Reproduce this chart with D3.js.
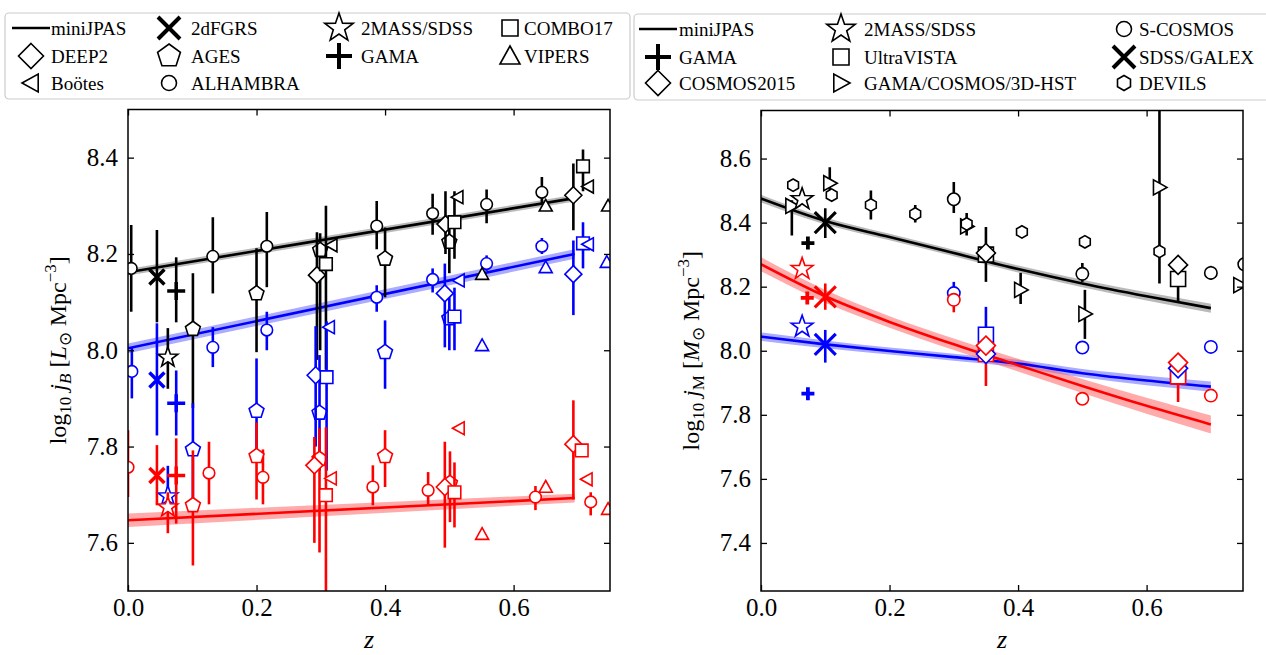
<!DOCTYPE html>
<html><head><meta charset="utf-8">
<script src="https://cdn.jsdelivr.net/npm/d3@7"></script>
<style>
body{margin:0;background:#fff}
svg, svg text{font-family:"Liberation Serif","Times New Roman",serif}
</style>
</head><body>
<svg id="c" width="1266" height="655"></svg>
<script>
// ================= DATA =================
// each point: [population, z, value, lower, upper]   (lower/upper = error-bar ends, null = none)
// ---- left panel: log10 j_B ----
const jB_ALHAMBRA = [
  ["all",0.005,8.170,8.080,8.260],["all",0.132,8.195,8.118,8.276],["all",0.216,8.216,8.131,8.287],
  ["all",0.387,8.258,8.210,8.310],["all",0.474,8.284,8.240,8.325],["all",0.558,8.303,8.264,8.334],
  ["all",0.644,8.328,8.305,8.360],
  ["blue",0.006,7.956,7.900,8.006],["blue",0.132,8.006,7.965,8.048],["blue",0.216,8.042,8.000,8.080],
  ["blue",0.387,8.110,8.080,8.135],["blue",0.474,8.147,8.120,8.170],["blue",0.558,8.180,8.165,8.197],
  ["blue",0.644,8.216,8.200,8.233],
  ["red",0.000,7.757,7.695,7.834],["red",0.126,7.745,7.680,7.810],["red",0.210,7.736,7.680,7.794],
  ["red",0.381,7.716,7.678,7.761],["red",0.467,7.709,7.678,7.747],["red",0.634,7.695,7.668,7.718],
  ["red",0.720,7.685,7.657,7.705]
];
const jB_2dFGRS = [["all",0.045,8.152,8.058,8.250],["blue",0.045,7.938,7.823,8.056],["red",0.045,7.740,7.678,7.803]];
const jB_GAMA = [["all",0.075,8.123,8.058,8.193],["blue",0.075,7.890,7.823,7.958],["red",0.075,7.740,7.640,7.817]];
const jB_2MASS = [["all",0.062,7.985,7.920,8.046],["blue",0.062,7.697,7.680,7.760],["red",0.062,7.674,7.620,7.705]];
const jB_AGES = [
  ["all",0.101,8.044,7.880,8.160],["all",0.200,8.118,7.996,8.212],["all",0.299,8.208,8.000,8.243],
  ["all",0.400,8.190,8.110,8.255],["all",0.500,8.225,8.160,8.274],
  ["blue",0.101,7.794,7.690,7.890],["blue",0.200,7.874,7.770,7.983],["blue",0.298,7.870,7.750,7.990],
  ["blue",0.400,7.996,7.920,8.062],["blue",0.500,8.066,8.000,8.110],
  ["red",0.101,7.678,7.553,7.792],["red",0.200,7.780,7.690,7.850],["red",0.298,7.774,7.580,7.838],
  ["red",0.400,7.780,7.716,7.834],["red",0.501,7.724,7.643,7.790]
];
const jB_DEEP2 = [
  ["all",0.294,8.156,7.980,8.245],["all",0.494,8.262,8.200,8.330],["all",0.693,8.322,8.249,8.388],
  ["blue",0.292,7.948,7.800,8.050],["blue",0.493,8.118,8.006,8.180],["blue",0.693,8.158,8.073,8.228],
  ["red",0.290,7.761,7.600,7.820],["red",0.493,7.716,7.590,7.810],["red",0.693,7.805,7.690,7.896]
];
const jB_COMBO17 = [
  ["all",0.308,8.179,7.960,8.300],["all",0.508,8.266,8.190,8.330],["all",0.708,8.382,8.330,8.417],
  ["blue",0.309,7.944,7.750,8.060],["blue",0.508,8.070,8.000,8.130],["blue",0.708,8.222,8.170,8.266],
  ["red",0.308,7.699,7.450,7.840],["red",0.508,7.705,7.632,7.767],["red",0.706,7.792,null,null]
];
const jB_VIPERS = [
  ["all",0.551,8.158,null,null],["all",0.650,8.300,null,null],["all",0.747,8.300,null,null],
  ["blue",0.551,8.010,null,null],["blue",0.650,8.172,null,null],["blue",0.745,8.183,null,null],
  ["red",0.551,7.618,null,null],["red",0.650,7.716,null,null],["red",0.747,7.670,null,null]
];
const jB_Bootes = [
  ["all",0.317,8.218,null,null],["all",0.513,8.318,null,null],["all",0.716,8.340,null,null],
  ["blue",0.313,8.048,null,null],["blue",0.515,8.145,null,null],["blue",0.716,8.220,null,null],
  ["red",0.316,7.734,null,null],["red",0.515,7.838,null,null],["red",0.714,7.732,null,null]
];
// miniJPAS fits (left)
const jB_fit_z    = [0.0, 0.695];
const jB_fit_all  = [8.162, 8.316];
const jB_fit_blue = [8.004, 8.200];
const jB_fit_red  = [7.647, 7.693];
const jB_band_all  = [0.007, 0.007];
const jB_band_blue = [0.010, 0.010];
const jB_band_red  = [0.014, 0.009];

// ---- right panel: log10 j_M ----
const jM_SCOSMOS = [
  ["all",0.300,8.473,8.430,8.527],["all",0.500,8.240,8.215,8.274],["all",0.700,8.243,8.222,8.265],["all",0.752,8.270,8.200,8.355],
  ["blue",0.300,8.180,8.150,8.215],["blue",0.500,8.010,7.995,8.025],["blue",0.700,8.012,null,null],
  ["red",0.300,8.159,8.120,8.180],["red",0.500,7.850,7.835,7.868],["red",0.700,7.860,null,null]
];
const jM_GAMA = [["all",0.073,8.336,null,null],["blue",0.073,7.866,null,null],["red",0.072,8.165,null,null]];
const jM_SDSSGALEX = [["all",0.100,8.400,8.352,8.445],["blue",0.100,8.020,7.963,8.065],["red",0.100,8.168,8.128,8.210]];
const jM_2MASS = [["all",0.064,8.473,null,null],["blue",0.064,8.075,null,null],["red",0.064,8.255,null,null]];
const jM_UltraVISTA = [
  ["all",0.350,8.300,null,null],["all",0.649,8.224,8.153,8.250],
  ["blue",0.350,8.050,7.990,8.137],["blue",0.649,7.935,7.900,7.990],
  ["red",0.350,7.990,7.890,8.030],["red",0.649,7.920,7.840,7.960]
];
const jM_COSMOS2015 = [
  ["all",0.350,8.305,8.215,8.386],["all",0.649,8.268,null,null],
  ["blue",0.350,7.990,null,null],["blue",0.649,7.945,null,null],
  ["red",0.350,8.016,null,null],["red",0.649,7.963,null,null]
];
const jM_GCH = [
  ["all",0.048,8.452,8.360,8.470],["all",0.107,8.523,8.490,8.573],["all",0.320,8.388,null,null],
  ["all",0.404,8.190,8.146,8.243],["all",0.504,8.115,8.037,8.190],["all",0.620,8.510,8.310,8.800],
  ["all",0.745,8.205,null,null]
];
const jM_DEVILS = [
  ["all",0.050,8.517,null,null],["all",0.110,8.486,null,null],["all",0.171,8.455,8.410,8.500],
  ["all",0.240,8.427,8.400,8.455],["all",0.320,8.396,8.360,8.430],["all",0.406,8.371,8.355,8.387],
  ["all",0.504,8.340,8.325,8.357],["all",0.620,8.310,8.210,8.330]
];
// miniJPAS fits (right)
const jM_fit_z    = [0.0, 0.1, 0.2, 0.3, 0.4, 0.5, 0.6, 0.7];
const jM_fit_all  = [8.475, 8.405, 8.355, 8.305, 8.255, 8.210, 8.170, 8.133];
const jM_fit_blue = [8.044, 8.020, 7.999, 7.980, 7.960, 7.930, 7.907, 7.888];
const jM_fit_red  = [8.270, 8.170, 8.090, 8.020, 7.955, 7.890, 7.828, 7.770];
const jM_band_all  = [0.012, 0.011, 0.010, 0.010, 0.011, 0.012, 0.013, 0.014];
const jM_band_blue = [0.013, 0.012, 0.011, 0.011, 0.012, 0.013, 0.015, 0.016];
const jM_band_red  = [0.022, 0.020, 0.018, 0.018, 0.020, 0.022, 0.025, 0.028];

const xTicks = [0.0, 0.2, 0.4, 0.6];
const jB_yTicks = [7.6, 7.8, 8.0, 8.2, 8.4];
const jM_yTicks = [7.4, 7.6, 7.8, 8.0, 8.2, 8.4, 8.6];

// legends
const legendLeft = [
  ["miniJPAS","line"],["2dFGRS","x"],["2MASS/SDSS","*"],["COMBO17","s"],
  ["DEEP2","D"],["AGES","p"],["GAMA","+"],["VIPERS","^"],
  ["Boötes","<"],["ALHAMBRA","o"]
];
const legendRight = [
  ["miniJPAS","line"],["2MASS/SDSS","*"],["S-COSMOS","o"],
  ["GAMA","+"],["UltraVISTA","s"],["SDSS/GALEX","x"],
  ["COSMOS2015","D"],["GAMA/COSMOS/3D-HST",">"],["DEVILS","h"]
];

// ================= DRAWING =================
const FONT = '"Liberation Serif", "Times New Roman", serif';
const svg = d3.select("#c");
const COL = {all:"#000000", blue:"#0000ff", red:"#ff0000"};
const BAND = {all:"#7f7f7f", blue:"#6666ff", red:"#ff6666"};

function markerPath(t, s){
  const P = pts => "M" + pts.map(p => p[0].toFixed(2)+","+p[1].toFixed(2)).join("L") + "Z";
  const poly = (n, r, off) => d3.range(n).map(k => {const a = -Math.PI/2 + off + k*2*Math.PI/n; return [r*Math.cos(a), r*Math.sin(a)];});
  switch(t){
    case "o": return `M${s},0A${s},${s} 0 1,1 ${-s},0A${s},${s} 0 1,1 ${s},0Z`;
    case "s": return P([[-s,-s],[s,-s],[s,s],[-s,s]]);
    case "D": return P([[0,-s],[s,0],[0,s],[-s,0]]);
    case "p": return P(poly(5, s, 0));
    case "h": return P(poly(6, s, 0));
    case "*": return P(d3.range(10).map(k => {const r = k%2 ? s*0.40 : s; const a = -Math.PI/2 + k*Math.PI/5; return [r*Math.cos(a), r*Math.sin(a)];}));
    case "^": return P([[0,-s],[s,s*0.8],[-s,s*0.8]]);
    case "<": return P([[-s,0],[s*0.8,-s],[s*0.8,s]]);
    case ">": return P([[s,0],[-s*0.8,-s],[-s*0.8,s]]);
    case "x": return `M${-s},${-s}L${s},${s}M${-s},${s}L${s},${-s}`;
    case "+": return `M${-s},0L${s},0M0,${-s}L0,${s}`;
  }
}
const isLineMarker = t => t === "x" || t === "+";

function drawMarker(g, t, s, x, y, color, sw){
  g.append("path").attr("d", markerPath(t, s)).attr("transform", `translate(${x},${y})`)
    .attr("fill", isLineMarker(t) ? "none" : "#fff")
    .attr("stroke", color).attr("stroke-width", sw)
    .attr("stroke-linejoin", "miter");
}

function drawPanel(cfg){
  const x = d3.scaleLinear().domain([0, 0.75]).range([cfg.x0, cfg.x1]);
  const y = d3.scaleLinear().domain(cfg.ydom).range([cfg.y1, cfg.y0]);
  const clipId = "clip" + cfg.id;
  svg.append("clipPath").attr("id", clipId).append("rect")
    .attr("x", cfg.x0).attr("y", cfg.y0).attr("width", cfg.x1 - cfg.x0).attr("height", cfg.y1 - cfg.y0);
  const g = svg.append("g").attr("clip-path", `url(#${clipId})`);

  // fits with bands
  const curve = cfg.fit.z.length > 2 ? d3.curveMonotoneX : d3.curveLinear;
  ["all","blue","red"].forEach(pop => {
    const vals = cfg.fit[pop], band = cfg.band[pop];
    const rows = cfg.fit.z.map((z,i) => ({z, v: vals[i], b: band[i]}));
    g.append("path").datum(rows)
      .attr("d", d3.area().x(d => x(d.z)).y0(d => y(d.v - d.b)).y1(d => y(d.v + d.b)).curve(curve))
      .attr("fill", BAND[pop]).attr("fill-opacity", 0.55).attr("stroke", "none");
  });
  ["all","blue","red"].forEach(pop => {
    const vals = cfg.fit[pop];
    const rows = cfg.fit.z.map((z,i) => ({z, v: vals[i]}));
    g.append("path").datum(rows)
      .attr("d", d3.line().x(d => x(d.z)).y(d => y(d.v)).curve(curve))
      .attr("fill", "none").attr("stroke", COL[pop]).attr("stroke-width", 2.6);
  });

  // data sets
  cfg.sets.forEach(set => {
    ["all","blue","red"].forEach(pop => {
      set.data.filter(d => d[0] === pop).forEach(d => {
        const [p, z, v, lo, hi] = d;
        if (lo !== null || hi !== null) {
          g.append("line").attr("x1", x(z)).attr("x2", x(z))
            .attr("y1", y(lo !== null ? lo : v)).attr("y2", y(hi !== null ? hi : v))
            .attr("stroke", COL[pop]).attr("stroke-width", 2.6);
        }
      });
      set.data.filter(d => d[0] === pop).forEach(d => {
        const [p, z, v] = d;
        drawMarker(g, set.m, set.s, x(z), y(v), COL[pop], isLineMarker(set.m) ? set.lw : 1.6);
      });
    });
  });

  // axes (inward ticks)
  const ax = svg.append("g").attr("class","axes");
  const fmt = d3.format(".1f");
  const bottom = ax.append("g").attr("transform", `translate(0,${cfg.y1})`)
    .call(d3.axisBottom(x).tickValues(xTicks).tickSize(-6).tickPadding(7).tickFormat(fmt));
  const top = ax.append("g").attr("transform", `translate(0,${cfg.y0})`)
    .call(d3.axisTop(x).tickValues(xTicks).tickSize(-6).tickFormat(""));
  const left = ax.append("g").attr("transform", `translate(${cfg.x0},0)`)
    .call(d3.axisLeft(y).tickValues(cfg.yTicks).tickSize(-6).tickPadding(10).tickFormat(fmt));
  const right = ax.append("g").attr("transform", `translate(${cfg.x1},0)`)
    .call(d3.axisRight(y).tickValues(cfg.yTicks).tickSize(-6).tickFormat(""));
  [bottom, top, left, right].forEach(a => {
    a.attr("font-family", null).attr("font-size", null);
    a.select(".domain").remove();
    a.selectAll("line").attr("stroke", "#000").attr("stroke-width", 1.3);
    a.selectAll("text").style("font-family", FONT).style("font-size", "25px").attr("fill", "#000");
  });
  ax.append("rect").attr("x", cfg.x0).attr("y", cfg.y0).attr("width", cfg.x1 - cfg.x0).attr("height", cfg.y1 - cfg.y0)
    .attr("fill", "none").attr("stroke", "#000").attr("stroke-width", 1.5);

  // x label
  svg.append("text").attr("x", (cfg.x0 + cfg.x1)/2).attr("y", 648).attr("text-anchor", "middle")
    .style("font-family", FONT).attr("font-size", 26).attr("font-style", "italic").text("z");

  // y label
  const yl = svg.append("text").attr("transform", `translate(${cfg.ylx},${(cfg.y0+cfg.y1)/2}) rotate(-90)`)
    .attr("text-anchor", "middle").style("font-family", FONT).attr("font-size", 24);
  yl.append("tspan").text("log");
  yl.append("tspan").attr("font-size", 17).attr("dy", 5).text("10");
  yl.append("tspan").attr("dy", -5).text(" ");
  yl.append("tspan").attr("font-style", "italic").text("j");
  yl.append("tspan").attr("font-size", 17).attr("dy", 5).attr("font-style", cfg.subItalic ? "italic" : "normal").text(cfg.sub);
  yl.append("tspan").attr("dy", -5).text(" [");
  yl.append("tspan").attr("font-style", "italic").text(cfg.unit);
  yl.append("tspan").attr("font-size", 17).attr("dy", 5).text("⊙");
  yl.append("tspan").attr("dy", -5).text(" Mpc");
  yl.append("tspan").attr("font-size", 17).attr("dy", -10).text("−3");
  yl.append("tspan").attr("dy", 10).text("]");
}

drawPanel({
  id: "L", x0: 128, x1: 610, y0: 109.5, y1: 591, ydom: [7.5, 8.5], yTicks: jB_yTicks,
  ylx: 66, sub: "B", subItalic: true, unit: "L",
  fit: {z: jB_fit_z, all: jB_fit_all, blue: jB_fit_blue, red: jB_fit_red},
  band: {all: jB_band_all, blue: jB_band_blue, red: jB_band_red},
  sets: [
    {data: jB_ALHAMBRA, m: "o", s: 5.8},
    {data: jB_AGES, m: "p", s: 7.8},
    {data: jB_DEEP2, m: "D", s: 8.5},
    {data: jB_COMBO17, m: "s", s: 6.3},
    {data: jB_VIPERS, m: "^", s: 6.5},
    {data: jB_Bootes, m: "<", s: 6.5},
    {data: jB_2MASS, m: "*", s: 10.5},
    {data: jB_2dFGRS, m: "x", s: 7.5, lw: 3.5},
    {data: jB_GAMA, m: "+", s: 9, lw: 3.5}
  ]
});

drawPanel({
  id: "R", x0: 761, x1: 1243, y0: 110.5, y1: 591, ydom: [7.25, 8.75], yTicks: jM_yTicks,
  ylx: 699, sub: "M", subItalic: false, unit: "M",
  fit: {z: jM_fit_z, all: jM_fit_all, blue: jM_fit_blue, red: jM_fit_red},
  band: {all: jM_band_all, blue: jM_band_blue, red: jM_band_red},
  sets: [
    {data: jM_GCH, m: ">", s: 7.5},
    {data: jM_DEVILS, m: "h", s: 6.2},
    {data: jM_SCOSMOS, m: "o", s: 6.2},
    {data: jM_UltraVISTA, m: "s", s: 7.5},
    {data: jM_COSMOS2015, m: "D", s: 9.5},
    {data: jM_2MASS, m: "*", s: 11.5},
    {data: jM_GAMA, m: "+", s: 6.5, lw: 3.8},
    {data: jM_SDSSGALEX, m: "x", s: 10.5, lw: 3.2}
  ]
});

// ================= LEGENDS =================
const LEG_MS = {"line":0, "x":11, "*":15, "s":8, "D":12.5, "p":12, "+":13, "^":10, "<":9, "o":7.5, ">":9, "h":7.5};
function drawLegend(box, items, cols, rows){
  const g = svg.append("g");
  g.append("rect").attr("x", box.x).attr("y", box.y).attr("width", box.w).attr("height", box.h)
    .attr("rx", 4).attr("fill", "#fff").attr("stroke", "#cccccc").attr("stroke-width", 1.2);
  items.forEach((it, i) => {
    const r = Math.floor(i / cols.length), c = i % cols.length;
    const cy = rows[r], cx = cols[c].m, tx = cols[c].t;
    const [label, t] = it;
    if (t === "line") {
      g.append("line").attr("x1", cx - 19).attr("x2", cx + 19).attr("y1", cy).attr("y2", cy)
        .attr("stroke", "#000").attr("stroke-width", 2.6);
    } else {
      drawMarker(g, t, LEG_MS[t], cx, cy, "#000", isLineMarker(t) ? 4 : 1.6);
    }
    g.append("text").attr("x", tx).attr("y", cy + 6.5).style("font-family", FONT).attr("font-size", 19).text(label);
  });
}
drawLegend({x: 5, y: 13, w: 625, h: 86}, legendLeft,
  [{m: 31, t: 51}, {m: 169, t: 191}, {m: 339, t: 361}, {m: 510, t: 524}], [28, 56, 83]);
drawLegend({x: 634, y: 14, w: 640, h: 86}, legendRight,
  [{m: 658, t: 679}, {m: 841, t: 864}, {m: 1124, t: 1139}], [29, 57, 83]);
</script>
</body></html>
